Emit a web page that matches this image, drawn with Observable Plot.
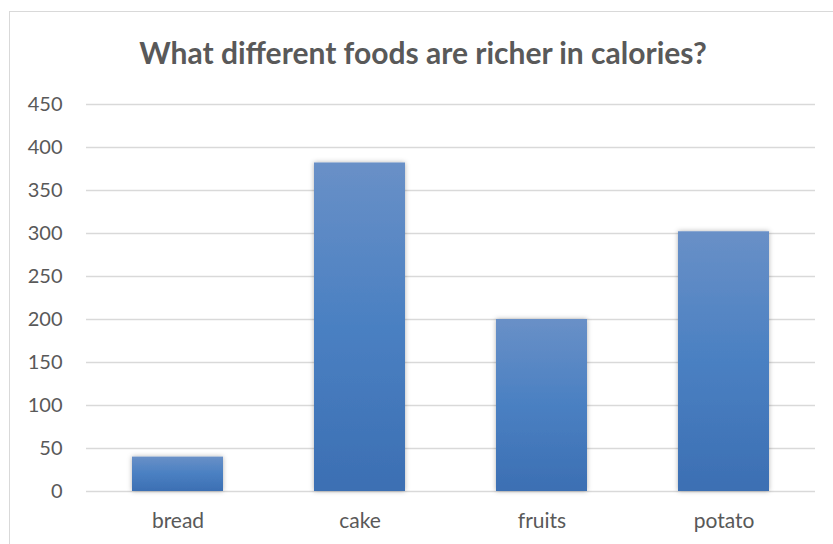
<!DOCTYPE html>
<html>
<head>
<meta charset="utf-8">
<script src="https://cdn.jsdelivr.net/npm/d3@7"></script>
<script src="https://cdn.jsdelivr.net/npm/@observablehq/plot@0.6"></script>
<style>
  html, body { margin: 0; padding: 0; background: #fff; }
  #wrap { position: relative; width: 833px; height: 544px; overflow: hidden; }
  #frame { position: absolute; left: 9px; top: 11px; width: 840px; height: 560px; border: 1px solid #d9d9d9; box-sizing: border-box; }
  #title { position: absolute; left: 0; width: 846px; top: 33px; text-align: center; font-family: Lato, "Open Sans", sans-serif; font-weight: bold; font-size: 30px; line-height: 38px; color: #595959; }
  #chart { position: absolute; left: 0; top: 0; }
</style>
</head>
<body>
<div id="wrap">
  <div id="frame"></div>
  <div id="chart"></div>
  <div id="title">What different foods are richer in calories?</div>
</div>
<script>
const categories = ["bread", "cake", "fruits", "potato"];
const calories = [40, 382, 200, 302];
const yTicks = [0, 50, 100, 150, 200, 250, 300, 350, 400, 450];

const data = categories.map((c, i) => ({food: c, value: calories[i]}));

const plot = Plot.plot({
  width: 833,
  height: 544,
  marginTop: 104,
  marginBottom: 53,
  marginLeft: 86,
  marginRight: 18,
  style: {fontFamily: "Lato, 'Open Sans', sans-serif", fontSize: "20px", color: "#595959", background: "transparent"},
  x: {domain: categories, paddingInner: 0.5, paddingOuter: 0.25, label: null, tickSize: 0, tickPadding: 22},
  y: {domain: [0, 450], ticks: yTicks, label: null, tickSize: 0, tickPadding: 24},
  marks: [
    Plot.ruleY(yTicks, {stroke: "#d9d9d9", strokeWidth: 1.5}),
    Plot.barY(data, {x: "food", y: "value", fill: "url(#barGrad)"})
  ]
});

const svg = d3.select(plot);
const defs = svg.insert("defs", ":first-child");
const g = defs.append("linearGradient").attr("id", "barGrad").attr("x1", 0).attr("y1", 0).attr("x2", 0).attr("y2", 1);
g.append("stop").attr("offset", "0%").attr("stop-color", "#6990c7");
g.append("stop").attr("offset", "50%").attr("stop-color", "#4a80c2");
g.append("stop").attr("offset", "100%").attr("stop-color", "#3c6fb3");
const f = defs.append("filter").attr("id", "shadow").attr("x", "-20%").attr("y", "-20%").attr("width", "140%").attr("height", "140%");
f.append("feDropShadow").attr("dx", 0).attr("dy", 0).attr("stdDeviation", 2.5).attr("flood-color", "#000").attr("flood-opacity", 0.3);
svg.selectAll("g[aria-label='bar'] rect").attr("filter", "url(#shadow)");
svg.selectAll("g[aria-label='x-axis tick label'] text").attr("font-size", "21px").attr("fill", "#595959");
svg.selectAll("g[aria-label='y-axis tick label'] text").attr("font-size", "20px").attr("fill", "#595959");

document.getElementById("chart").appendChild(plot);
</script>
</body>
</html>
